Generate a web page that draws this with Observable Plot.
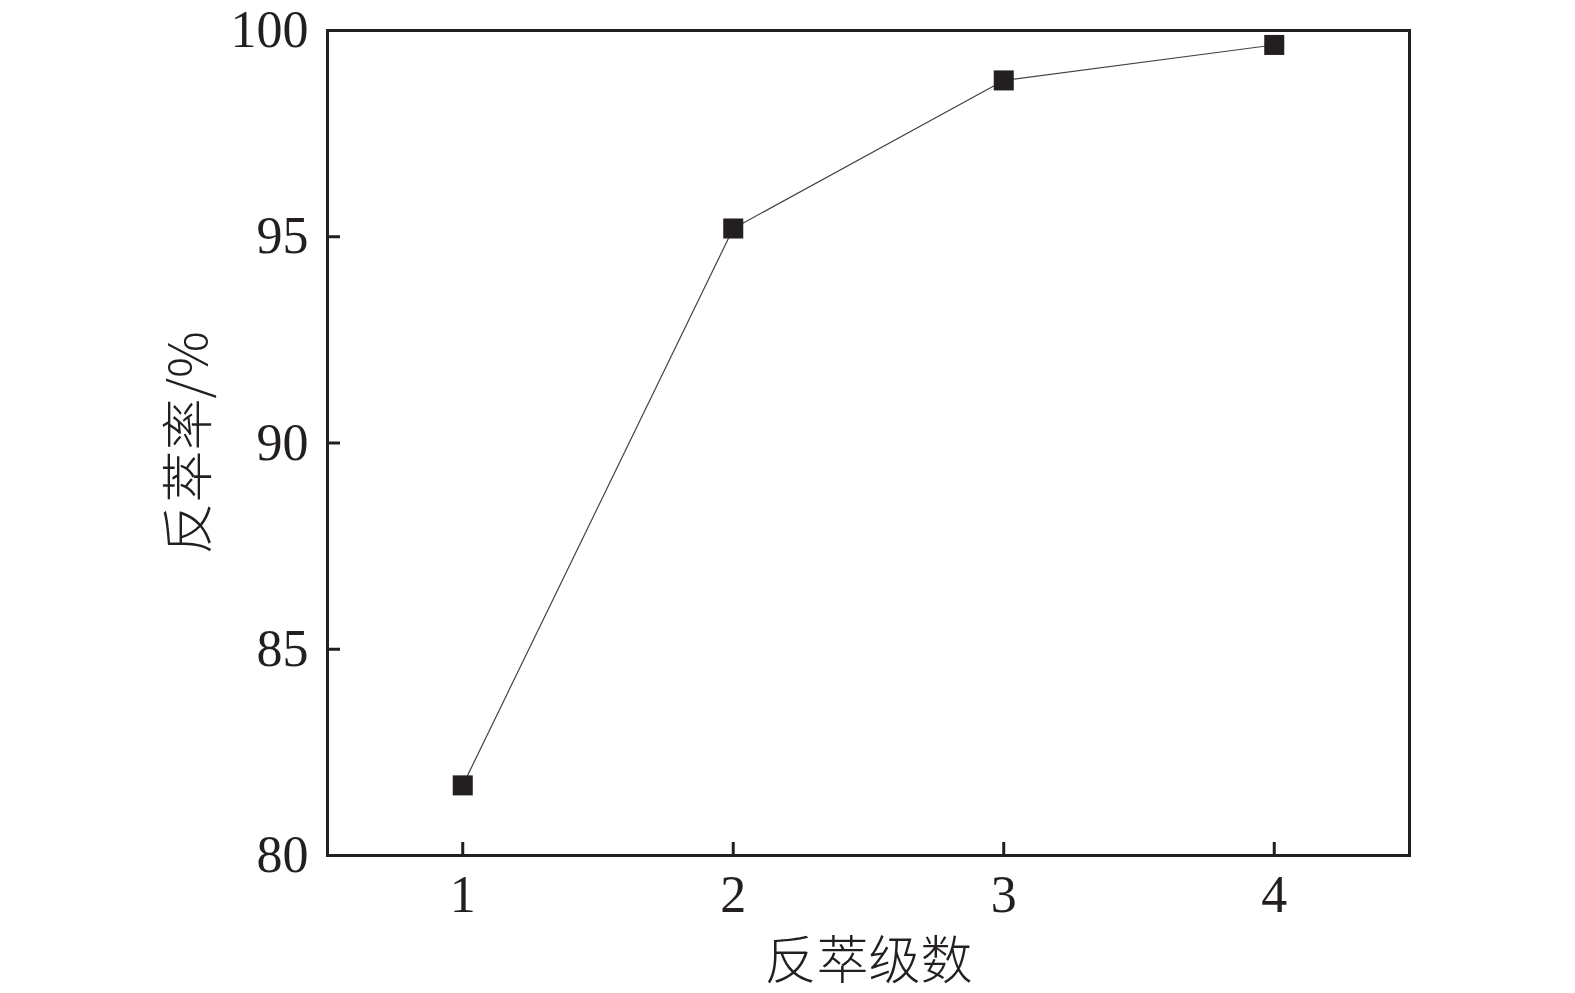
<!DOCTYPE html>
<html>
<head>
<meta charset="utf-8">
<script src="https://cdn.jsdelivr.net/npm/d3@7"></script>
<script src="https://cdn.jsdelivr.net/npm/@observablehq/plot@0.6"></script>
<style>
  html, body { margin: 0; padding: 0; background: #fff; }
  #chart svg { display: block; }
</style>
</head>
<body>
<div id="chart"></div>
<script>
const stages = [1, 2, 3, 4];
const rates = [81.7, 95.2, 98.79, 99.65];
const xTicks = [1, 2, 3, 4];
const yTicks = [80, 85, 90, 95, 100];
const xLabel = "反萃级数";
const yLabel = "反萃率/%";

const data = stages.map((s, i) => ({stage: s, rate: rates[i]}));
const ink = "#231f20";
const serif = "Liberation Serif";
const cjk = "Noto Sans CJK SC";

const chart = Plot.plot({
  width: 1575,
  height: 993,
  marginLeft: 327,
  marginRight: 166,
  marginTop: 30,
  marginBottom: 138,
  style: {fontFamily: serif, fontSize: "52px", color: ink, background: "#fff"},
  x: {domain: [0.5, 4.5]},
  y: {domain: [80, 100]},
  marks: [
    Plot.frame({stroke: ink, strokeWidth: 3}),
    Plot.axisX({ticks: xTicks, tickFormat: d3.format("d"), tickSize: -13, tickPadding: 33, strokeWidth: 3, stroke: ink, fill: ink, fontSize: 52, fontFamily: serif, label: null}),
    Plot.axisY({ticks: yTicks, tickFormat: d3.format("d"), tickSize: -13, tickPadding: 32, strokeWidth: 3, stroke: ink, fill: ink, fontSize: 52, fontFamily: serif, label: null}),
    Plot.text([xLabel], {frameAnchor: "bottom", textAnchor: "middle", dy: 123, text: d => d, fontSize: 52, fill: ink, fontFamily: cjk, fontWeight: 300}),
    Plot.text([yLabel], {frameAnchor: "left", textAnchor: "middle", dx: -137, rotate: -90, text: d => d, fontSize: 52, fill: ink, fontFamily: cjk, fontWeight: 300}),
    Plot.line(data, {x: "stage", y: "rate", stroke: "#444", strokeWidth: 1.2}),
    Plot.dot(data, {x: "stage", y: "rate", symbol: "square", r: 11.3, fill: ink, stroke: null})
  ]
});
document.getElementById("chart").appendChild(chart);
</script>
</body>
</html>
